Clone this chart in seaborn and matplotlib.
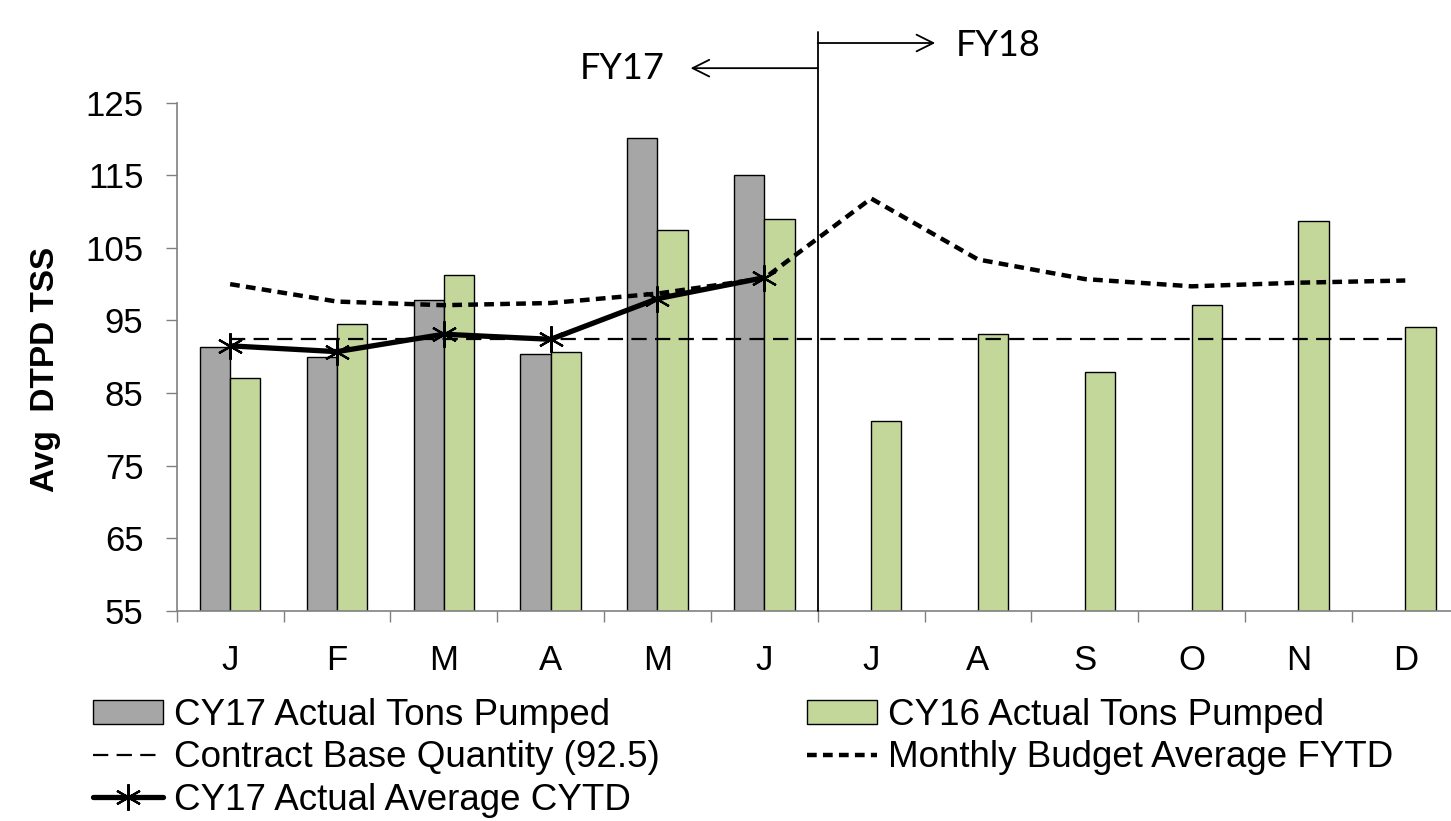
import numpy as np
import pandas as pd
import matplotlib
matplotlib.use("Agg")
import matplotlib.pyplot as plt
import seaborn as sns
from matplotlib.patches import Patch
from matplotlib.lines import Line2D


# DATA

months = ["Jan", "Feb", "Mar", "Apr", "May", "Jun",
          "Jul", "Aug", "Sep", "Oct", "Nov", "Dec"]
month_letters = ["J", "F", "M", "A", "M", "J", "J", "A", "S", "O", "N", "D"]

cy17_tons = [91.4, 90.0, 97.8, 90.4, 120.1, 115.1,
             np.nan, np.nan, np.nan, np.nan, np.nan, np.nan]
cy16_tons = [87.0, 94.5, 101.2, 90.7, 107.4, 109.0,
             81.2, 93.1, 87.9, 97.1, 108.7, 94.1]
contract_base = [92.5] * 12
budget_fytd = [100.0, 97.6, 97.1, 97.4, 98.7, 100.8,
               111.8, 103.4, 100.7, 99.7, 100.2, 100.5]
cy17_cytd = [91.5, 90.7, 93.1, 92.4, 98.0, 100.9]

y_ticks = [55, 65, 75, 85, 95, 105, 115, 125]

bar_names = ["CY17 Actual Tons Pumped", "CY16 Actual Tons Pumped"]
bar_colors = ["#A6A6A6", "#C4D79B"]


# PLOT

sns.set_style("white")
plt.rcParams["font.family"] = ["Liberation Sans", "DejaVu Sans"]
plt.rcParams["lines.scale_dashes"] = False
plt.rcParams["text.color"] = "black"
plt.rcParams["axes.labelcolor"] = "black"
plt.rcParams["xtick.color"] = "black"
plt.rcParams["ytick.color"] = "black"

df = pd.DataFrame({
    "month": months * 2,
    "series": [bar_names[0]] * 12 + [bar_names[1]] * 12,
    "value": cy17_tons + cy16_tons,
})

fig = plt.figure(figsize=(14.51, 8.21), dpi=100)
ax = fig.add_axes([0.1218, 0.2561, 0.8835, 0.6188])

sns.barplot(data=df, x="month", y="value", hue="series", order=months,
            hue_order=bar_names, palette=bar_colors, saturation=1,
            width=0.566, edgecolor="black", linewidth=1.0, ax=ax,
            legend=False, zorder=2)

pos = np.arange(len(months))

sns.lineplot(x=pos, y=contract_base, ax=ax, color="black", lw=1.6,
             sort=False, zorder=3)
line_base = ax.lines[-1]
line_base.set_dashes((11, 6))

sns.lineplot(x=pos, y=budget_fytd, ax=ax, color="black", lw=3.2,
             sort=False, zorder=4)
line_budget = ax.lines[-1]
line_budget.set_dashes((7, 4.5))

sns.lineplot(x=pos[:len(cy17_cytd)], y=cy17_cytd, ax=ax, color="black",
             lw=3.8, marker=(6, 2, 0), markersize=19, markeredgewidth=1.6,
             markeredgecolor="black", sort=False, zorder=5)

ax.set_xlim(-0.5, 11.5)
ax.set_ylim(55, 125)
ax.set_yticks(y_ticks)
ax.set_xticks(pos)
ax.set_xticklabels(month_letters)
ax.set_xticks(np.arange(-0.5, 12, 1), minor=True)
ax.set_xlabel("")
ax.set_ylabel("Avg  DTPD TSS", fontsize=24, fontweight="bold")
ax.yaxis.set_label_coords(-0.090, 0.474)

ax.tick_params(axis="x", which="major", length=0, pad=24, labelsize=25)
ax.tick_params(axis="x", which="minor", length=8, width=1, color="#808080",
               direction="out", bottom=True)
ax.tick_params(axis="y", length=8, width=1, color="#808080",
               direction="out", left=True, pad=16, labelsize=25)

for side in ["top", "right"]:
    ax.spines[side].set_visible(False)
for side in ["left", "bottom"]:
    ax.spines[side].set_color("#808080")
    ax.spines[side].set_linewidth(1.2)

# fiscal year divider
ax.axvline(5.5, ymin=0, ymax=1.14, color="black", lw=1.3, clip_on=False,
           zorder=6)
trans = ax.get_xaxis_transform()
ax.annotate("", xy=(4.31, 1.068), xytext=(5.5, 1.068), xycoords=trans,
            textcoords=trans,
            arrowprops=dict(arrowstyle="->", lw=1.3, color="black",
                            mutation_scale=30, shrinkA=0, shrinkB=0),
            annotation_clip=False)
ax.annotate("", xy=(6.6, 1.1175), xytext=(5.5, 1.1175), xycoords=trans,
            textcoords=trans,
            arrowprops=dict(arrowstyle="->", lw=1.3, color="black",
                            mutation_scale=30, shrinkA=0, shrinkB=0),
            annotation_clip=False)
ax.text(4.07, 1.068, "FY17", transform=trans, ha="right", va="center",
        fontsize=26, family="Lato")
ax.text(6.79, 1.112, "FY18", transform=trans, ha="left", va="center",
        fontsize=26, family="Lato")

# legend
handles = [
    Patch(facecolor=bar_colors[0], edgecolor="black", lw=1.0),
    Line2D([], [], color="black", lw=1.6, dashes=(11, 6)),
    Line2D([], [], color="black", lw=3.8, marker=(6, 2, 0), markersize=19,
           markeredgewidth=1.6),
    Patch(facecolor=bar_colors[1], edgecolor="black", lw=1.0),
    Line2D([], [], color="black", lw=3.2, dashes=(7, 4.5)),
]
labels = [bar_names[0], "Contract Base Quantity (92.5)",
          "CY17 Actual Average CYTD", bar_names[1],
          "Monthly Budget Average FYTD"]
fig.legend(handles, labels, ncol=2, loc="upper left",
           bbox_to_anchor=(0.064, 0.150), frameon=False, fontsize=26.5,
           handlelength=1.9, handleheight=0.6, handletextpad=0.3,
           columnspacing=4.0, labelspacing=0.2, borderpad=0,
           borderaxespad=0)

fig.savefig("out.png", dpi=100)
